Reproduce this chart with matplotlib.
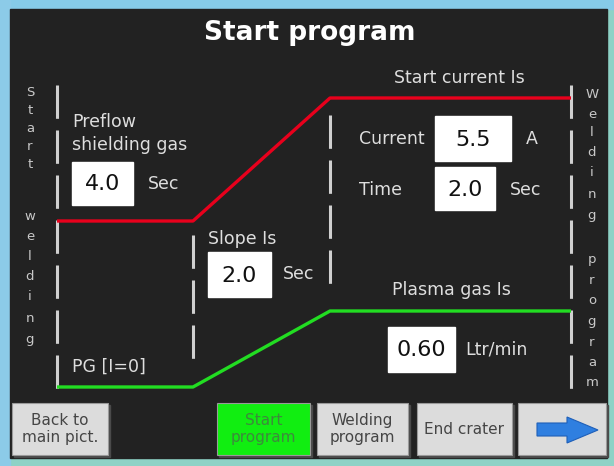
import matplotlib
matplotlib.use("Agg")
import matplotlib.pyplot as plt
from matplotlib.patches import Rectangle, Polygon

plt.rcParams['lines.scale_dashes'] = False
plt.rcParams['font.family'] = ['DejaVu Sans']

# screen texts / values
title = "Start program"
left_side = "Start welding"
right_side = "Welding program"

# profile breakpoints (screen px): preflow end, slope end, program start
stage_x = [57, 193, 330, 571]
current_level = [221, 221, 98, 98]
gas_level = [387, 387, 311, 311]

# input fields: label, value, unit
preflow_val, preflow_unit = "4.0", "Sec"
slope_val, slope_unit = "2.0", "Sec"
start_cur_val, start_cur_unit = "5.5", "A"
start_time_val, start_time_unit = "2.0", "Sec"
plasma_val, plasma_unit = "0.60", "Ltr/min"

buttons = ["Back to\nmain pict.", "Start\nprogram", "Welding\nprogram", "End crater", ""]
button_x = [12, 217, 317, 417, 518]
button_w = [96, 93, 91, 95, 88]
active_button = 1

W, H = 614, 466
BG = "#222222"
TXT = "#dedede"

fig = plt.figure(figsize=(W / 100, H / 100), dpi=100)
ax = fig.add_axes([0, 0, 1, 1])
ax.set_xlim(0, W)
ax.set_ylim(H, 0)
ax.axis('off')

# outer frame
ax.add_patch(Rectangle((0, 0), W, H, color="#8ed2c6", zorder=0))
ax.add_patch(Rectangle((0, 0), W, 9, color="#86cbe8", zorder=0))
ax.add_patch(Rectangle((0, 0), 10, 466, color="#8ccbe8", zorder=0))
ax.add_patch(Rectangle((10, 9), 597, 449, color=BG, zorder=1))

ax.text(310, 33, title, color="white", fontsize=19, fontweight='bold',
        ha='center', va='center', zorder=5)


def vertical_word(x, ys, word):
    letters = [c for c in word if c != " "]
    for y, c in zip(ys, letters):
        ax.text(x, y, c, color="#c8c8c8", fontsize=9.5, ha='center', va='center', zorder=5)


vertical_word(30, [92, 110, 128, 147, 165, 216, 236, 256, 276, 296, 318, 340], left_side)
vertical_word(592, [94, 114, 132, 152, 172, 194, 216, 260, 280, 301, 322, 342, 362, 383], right_side)


def dashed(x, y0, y1):
    ax.plot([x, x], [y0, y1], color="#d0d0d0", lw=2.2, dashes=(24, 8.4),
            solid_capstyle='butt', dash_capstyle='butt', zorder=3)


dashed(57, 85, 390)
dashed(571, 85, 390)
dashed(193, 235, 362)
dashed(330, 115, 287)

ax.plot(stage_x, current_level, color="#e8001c", lw=2.4, zorder=4, solid_capstyle='butt')
ax.plot(stage_x, gas_level, color="#22dd22", lw=2.4, zorder=4, solid_capstyle='butt')


def label(x, y, s, ha='left'):
    ax.text(x, y, s, color=TXT, fontsize=12.5, ha=ha, va='center', zorder=5)


def field(x0, x1, y0, y1, val):
    ax.add_patch(Rectangle((x0, y0), x1 - x0, y1 - y0, color="white", zorder=5))
    ax.text((x0 + x1) / 2, (y0 + y1) / 2 + 1, val, color="#111111", fontsize=16,
            ha='center', va='center', zorder=6)


label(72, 122, "Preflow")
label(72, 145, "shielding gas")
field(72, 133, 162, 205, preflow_val)
label(148, 184, preflow_unit)

label(459, 78, "Start current Is", ha='center')
label(359, 139, "Current")
field(435, 511, 116, 161, start_cur_val)
label(526, 139, start_cur_unit)
label(359, 190, "Time")
field(435, 495, 167, 210, start_time_val)
label(510, 190, start_time_unit)

label(208, 239, "Slope Is")
field(208, 271, 252, 297, slope_val)
label(283, 274, slope_unit)

label(451, 290, "Plasma gas Is", ha='center')
field(388, 455, 327, 372, plasma_val)
label(465, 350, plasma_unit)

label(72, 367, "PG [I=0]")

# bottom buttons
for i, (bx, bw, txt) in enumerate(zip(button_x, button_w, buttons)):
    face = "#11ee11" if i == active_button else "#dcdcdc"
    ax.add_patch(Rectangle((bx + 2, 405), bw, 52, color="#4a4a4a", zorder=4))
    ax.add_patch(Rectangle((bx, 403), bw, 52, facecolor=face, edgecolor="#9a9a9a",
                           lw=0.8, zorder=5))
    tc = "#3d8a3d" if i == active_button else "#454545"
    ax.text(bx + bw / 2, 429, txt, color=tc, fontsize=11, ha='center', va='center',
            linespacing=1.1, zorder=6)

# arrow on last button
ax.add_patch(Polygon([[537, 423], [567, 423], [567, 417], [598, 430],
                      [567, 443], [567, 436], [537, 436]],
                     closed=True, facecolor="#2f7fe0", edgecolor="#1f5fb8", lw=0.8, zorder=6))

fig.savefig("out.png", dpi=100, facecolor=fig.get_facecolor())
